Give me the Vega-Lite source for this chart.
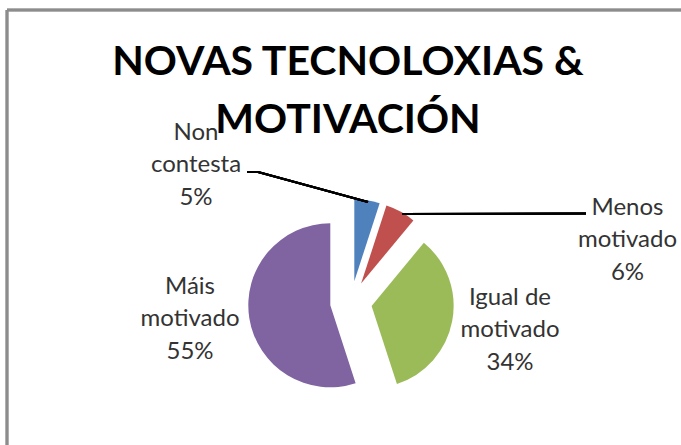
{
  "$schema": "https://vega.github.io/schema/vega-lite/v6.json",
  "width": 674,
  "height": 435,
  "autosize": "none",
  "padding": {"left": 7, "top": 10, "right": 0, "bottom": 0},
  "background": "white",
  "config": {"view": {"stroke": null}},
  "title": {
    "text": ["NOVAS TECNOLOXIAS &", "MOTIVACIÓN"],
    "font": "Lato",
    "fontWeight": "bold",
    "fontSize": 41,
    "lineHeight": 58,
    "color": "#000000",
    "anchor": "middle",
    "frame": "group",
    "dx": 4,
    "offset": -133
  },
  "data": {
    "values": [
      {"order": 1, "category": "Non contesta", "value": 5, "label": "Non\ncontesta\n5%"},
      {"order": 2, "category": "Menos motivado", "value": 6, "label": "Menos\nmotivado\n6%"},
      {"order": 3, "category": "Igual de motivado", "value": 34, "label": "Igual de\nmotivado\n34%"},
      {"order": 4, "category": "Máis motivado", "value": 55, "label": "Máis\nmotivado\n55%"}
    ]
  },
  "transform": [
    {"stack": "value", "groupby": [], "sort": [{"field": "order", "order": "ascending"}], "as": ["v0", "v1"]}
  ],
  "encoding": {},
  "layer": [
    {
      "mark": {"type": "rule", "color": "#8c8c8c", "strokeWidth": 2.5},
      "encoding": {"y": {"datum": -292, "type": "quantitative", "scale": {"domain": [-292, 143], "reverse": true, "nice": false, "zero": false}, "axis": null}}
    },
    {
      "mark": {"type": "rule", "color": "#8c8c8c", "strokeWidth": 2.5},
      "encoding": {"x": {"datum": -344, "type": "quantitative", "scale": {"domain": [-344, 330], "nice": false, "zero": false}, "axis": null}}
    },
    {
      "transform": [{"filter": "datum.order === 1"}],
      "mark": {"type": "arc", "radius": 82, "color": "#4F81BD"},
      "encoding": {
        "x": {"datum": 3.3, "type": "quantitative"},
        "y": {"datum": -20.7, "type": "quantitative"},
        "theta": {"field": "v0", "type": "quantitative", "scale": {"domain": [0, 100], "range": [0, 6.283185307]}},
        "theta2": {"field": "v1"}
      }
    },
    {
      "transform": [{"filter": "datum.order === 2"}],
      "mark": {"type": "arc", "radius": 82, "color": "#C0504D"},
      "encoding": {
        "x": {"datum": 10.1, "type": "quantitative"},
        "y": {"datum": -18.4, "type": "quantitative"},
        "theta": {"field": "v0", "type": "quantitative"},
        "theta2": {"field": "v1"}
      }
    },
    {
      "transform": [{"filter": "datum.order === 3"}],
      "mark": {"type": "arc", "radius": 82, "color": "#9BBB59"},
      "encoding": {
        "x": {"datum": 20.6, "type": "quantitative"},
        "y": {"datum": 3.9, "type": "quantitative"},
        "theta": {"field": "v0", "type": "quantitative"},
        "theta2": {"field": "v1"}
      }
    },
    {
      "transform": [{"filter": "datum.order === 4"}],
      "mark": {"type": "arc", "radius": 82, "color": "#8064A2"},
      "encoding": {
        "x": {"datum": -20.7, "type": "quantitative"},
        "y": {"datum": 3.3, "type": "quantitative"},
        "theta": {"field": "v0", "type": "quantitative"},
        "theta2": {"field": "v1"}
      }
    },
    {
      "mark": {"type": "rule", "color": "#000000", "strokeWidth": 2},
      "encoding": {
        "x": {"datum": -104, "type": "quantitative"},
        "y": {"datum": -130, "type": "quantitative"},
        "x2": {"datum": -93},
        "y2": {"datum": -130}
      }
    },
    {
      "mark": {"type": "rule", "color": "#000000", "strokeWidth": 2},
      "encoding": {
        "x": {"datum": -93, "type": "quantitative"},
        "y": {"datum": -130, "type": "quantitative"},
        "x2": {"datum": 17},
        "y2": {"datum": -100}
      }
    },
    {
      "mark": {"type": "rule", "color": "#000000", "strokeWidth": 2},
      "encoding": {
        "x": {"datum": 51, "type": "quantitative"},
        "y": {"datum": -88, "type": "quantitative"},
        "x2": {"datum": 235},
        "y2": {"datum": -88.5}
      }
    },
    {
      "transform": [{"filter": "datum.order === 1"}],
      "mark": {"type": "text", "font": "Lato", "fontSize": 24, "color": "#333333", "lineBreak": "\n", "lineHeight": 32.5, "align": "center", "baseline": "middle"},
      "encoding": {
        "x": {"datum": -155, "type": "quantitative"},
        "y": {"datum": -169.5, "type": "quantitative"},
        "text": {"field": "label"}
      }
    },
    {
      "transform": [{"filter": "datum.order === 2"}],
      "mark": {"type": "text", "font": "Lato", "fontSize": 24, "color": "#333333", "lineBreak": "\n", "lineHeight": 32.5, "align": "center", "baseline": "middle"},
      "encoding": {
        "x": {"datum": 276.5, "type": "quantitative"},
        "y": {"datum": -94.5, "type": "quantitative"},
        "text": {"field": "label"}
      }
    },
    {
      "transform": [{"filter": "datum.order === 3"}],
      "mark": {"type": "text", "font": "Lato", "fontSize": 24, "color": "#333333", "lineBreak": "\n", "lineHeight": 32.5, "align": "center", "baseline": "middle"},
      "encoding": {
        "x": {"datum": 159, "type": "quantitative"},
        "y": {"datum": -4.5, "type": "quantitative"},
        "text": {"field": "label"}
      }
    },
    {
      "transform": [{"filter": "datum.order === 4"}],
      "mark": {"type": "text", "font": "Lato", "fontSize": 24, "color": "#333333", "lineBreak": "\n", "lineHeight": 32.5, "align": "center", "baseline": "middle"},
      "encoding": {
        "x": {"datum": -161, "type": "quantitative"},
        "y": {"datum": -15.5, "type": "quantitative"},
        "text": {"field": "label"}
      }
    }
  ]
}
